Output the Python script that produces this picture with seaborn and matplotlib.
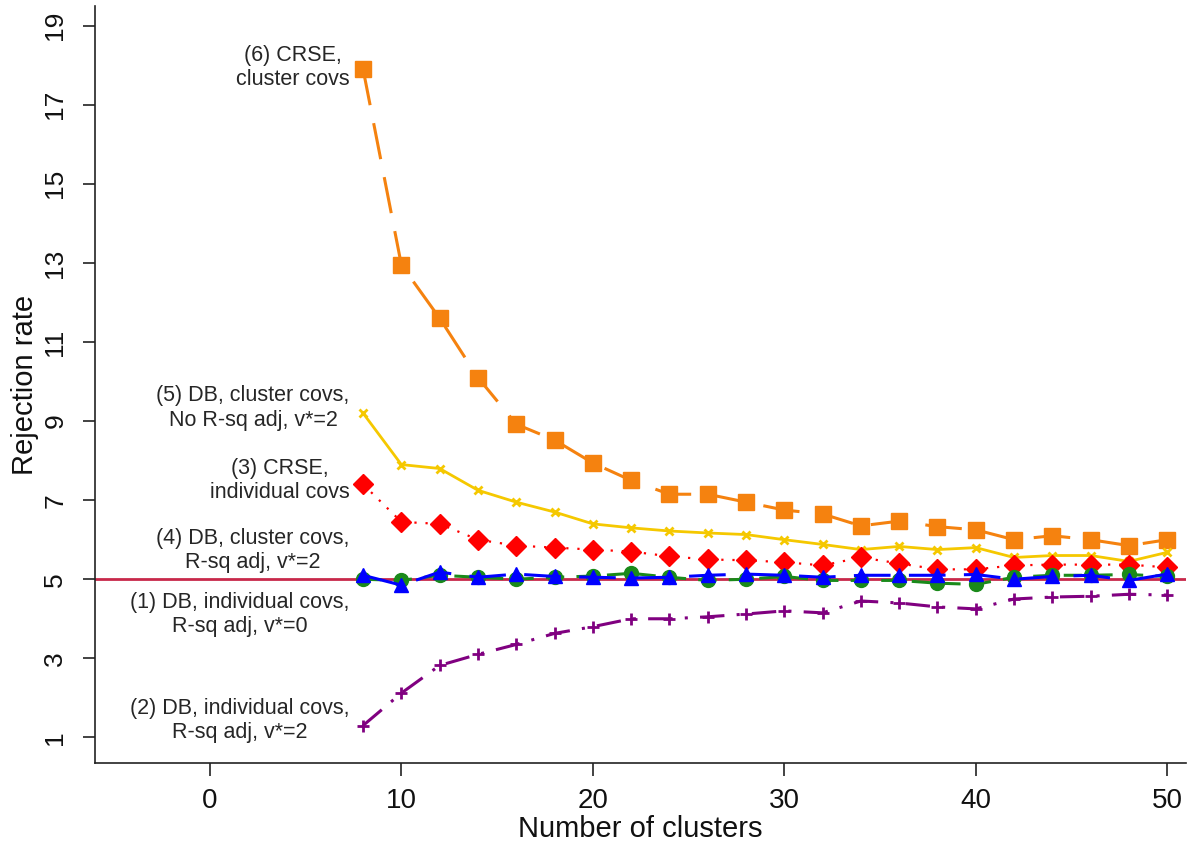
import numpy as np
import pandas as pd
import matplotlib
matplotlib.use("Agg")
import matplotlib.pyplot as plt
import seaborn as sns

clusters = [8, 10, 12, 14, 16, 18, 20, 22, 24, 26, 28, 30, 32, 34, 36, 38, 40, 42, 44, 46, 48, 50]

s6_crse_cluster = [17.9, 12.95, 11.6, 10.1, 8.92, 8.52, 7.94, 7.5, 7.15, 7.15, 6.95, 6.75, 6.65, 6.35, 6.47, 6.33, 6.25, 6.0, 6.1, 6.0, 5.85, 6.0]
s5_db_cluster_noadj = [9.2, 7.9, 7.8, 7.25, 6.95, 6.7, 6.4, 6.3, 6.22, 6.17, 6.13, 6.0, 5.88, 5.75, 5.83, 5.75, 5.8, 5.55, 5.6, 5.6, 5.45, 5.68]
s3_crse_indiv = [7.4, 6.45, 6.4, 6.0, 5.85, 5.8, 5.75, 5.7, 5.58, 5.5, 5.48, 5.43, 5.35, 5.55, 5.4, 5.25, 5.25, 5.35, 5.37, 5.37, 5.37, 5.3]
s1_db_indiv_v0 = [5.0, 4.97, 5.1, 5.05, 5.0, 5.05, 5.08, 5.15, 5.05, 4.97, 5.0, 5.07, 4.97, 4.97, 4.97, 4.9, 4.87, 5.05, 5.1, 5.1, 5.12, 5.07]
s4_db_cluster_adj = [5.1, 4.85, 5.18, 5.05, 5.13, 5.07, 5.05, 5.03, 5.05, 5.1, 5.13, 5.1, 5.05, 5.1, 5.1, 5.1, 5.12, 5.0, 5.07, 5.1, 4.97, 5.13]
s2_db_indiv_v2 = [1.3, 2.12, 2.82, 3.1, 3.35, 3.63, 3.8, 4.0, 4.0, 4.05, 4.12, 4.2, 4.15, 4.45, 4.4, 4.3, 4.25, 4.5, 4.55, 4.57, 4.62, 4.6]

label6 = "(6) CRSE,\ncluster covs"
label5 = "(5) DB, cluster covs,\nNo R-sq adj, v*=2"
label3 = "(3) CRSE,\nindividual covs"
label4 = "(4) DB, cluster covs,\nR-sq adj, v*=2"
label1 = "(1) DB, individual covs,\nR-sq adj, v*=0"
label2 = "(2) DB, individual covs,\nR-sq adj, v*=2"

x_ticks = [0, 10, 20, 30, 40, 50]
y_ticks = [1, 3, 5, 7, 9, 11, 13, 15, 17, 19]
ref_level = 5

sns.set_theme(style="ticks")
plt.rcParams["font.family"] = ["Liberation Sans", "DejaVu Sans"]

fig = plt.figure(figsize=(11.94, 8.46), dpi=100)
ax = fig.add_axes([0.0796, 0.098, 0.914, 0.895])

ax.axhline(ref_level, color="#c8284a", lw=2, zorder=1)

series = [
    (s6_crse_cluster, "#f5820f", "s", 11, (0, (12, 6)), 2.2, 17.95, label6),
    (s5_db_cluster_noadj, "#f5c800", "x", 6, "-", 2.0, 9.33, label5),
    (s3_crse_indiv, "#ff0000", "D", 10, (0, (1, 4)), 1.6, 7.5, label3),
    (s1_db_indiv_v0, "#1a8a1a", "o", 10, (0, (6, 4)), 2.2, 4.1, label1),
    (s4_db_cluster_adj, "#0000ff", "^", 10, (0, (12, 6)), 2.2, 5.73, label4),
    (s2_db_indiv_v2, "#800080", "+", 9, (0, (8, 4, 1, 4)), 2.2, 1.42, label2),
]

for vals, col, mk, ms, ls, lw, ty, lab in series:
    sns.lineplot(x=clusters, y=vals, ax=ax, color=col, marker=mk, markersize=ms,
                 linestyle=ls, linewidth=lw, markeredgecolor=col,
                 markeredgewidth=2 if mk in ("x", "+") else 1, zorder=3)
    ax.text(7.3, ty, lab, ha="right", va="center", multialignment="center",
            fontsize=15.5, color="#262626")

ax.set_xlim(-6, 51)
ax.set_ylim(0.35, 19.5)
ax.set_xticks(x_ticks)
ax.set_yticks(y_ticks)
ax.set_xlabel("Number of clusters", fontsize=21, labelpad=1, color="#111111")
ax.set_ylabel("Rejection rate", fontsize=21, labelpad=3, color="#111111")
ax.tick_params(axis="x", labelsize=20, length=9, width=1.2, pad=9,
               color="#222222", labelcolor="#111111")
ax.tick_params(axis="y", labelsize=19, length=9, width=1.2, pad=11,
               color="#222222", labelcolor="#111111", labelrotation=90)
for t in ax.get_yticklabels():
    t.set_va("center")
sns.despine(ax=ax)
for sp in ("left", "bottom"):
    ax.spines[sp].set_linewidth(1.2)
    ax.spines[sp].set_color("#222222")

fig.savefig("out.png", dpi=100)
